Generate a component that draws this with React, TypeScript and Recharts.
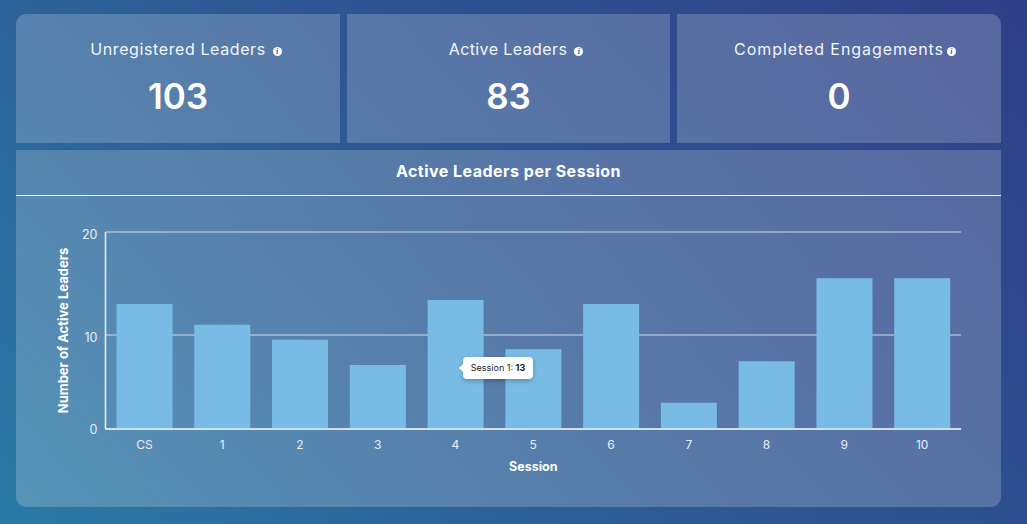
import React from "react";
import { BarChart, Bar, XAxis, YAxis, CartesianGrid } from "recharts";

const sessions = ["CS", "1", "2", "3", "4", "5", "6", "7", "8", "9", "10"];
const leaders = [13, 11, 9.5, 6.8, 13.4, 8.5, 13, 2.8, 7.2, 15.5, 15.5];
const yTicks = [0, 10, 20];
const cardTitles = ["Unregistered Leaders", "Active Leaders", "Completed Engagements"];
const cardValues = ["103", "83", "0"];
const tooltipName = "Session 1: ";
const tooltipValue = "13";

const FONT = "Inter, 'Noto Sans', sans-serif";
const rows = sessions.map((session, i) => ({ session, leaders: leaders[i] }));

// The reference axis is slightly uneven: the 10 line sits below the middle of the 0-20 range.
function unevenScale(): any {
  let d = [0, 20];
  let r = [0, 1];
  const midShare = 0.477;
  const s: any = (v: number) => {
    const mid = (d[0] + d[1]) / 2;
    const t =
      v <= mid
        ? ((v - d[0]) / (mid - d[0])) * midShare
        : midShare + ((v - mid) / (d[1] - mid)) * (1 - midShare);
    return r[0] + t * (r[1] - r[0]);
  };
  s.domain = (x?: number[]) => (x ? ((d = x), s) : d);
  s.range = (x?: number[]) => (x ? ((r = x), s) : r);
  s.copy = () => unevenScale().domain(d).range(r);
  s.ticks = () => yTicks;
  return s;
}

const panel: React.CSSProperties = {
  position: "absolute",
  background: "rgba(255,255,255,0.2)",
  color: "#fff",
  fontFamily: FONT,
};

const cardBoxes = [
  { left: 16, width: 324, radius: "10px 0 0 0" },
  { left: 347, width: 323, radius: "0" },
  { left: 677, width: 324, radius: "0 10px 0 0" },
];
const infoOffsets = [7, 7, 3];
const titleSpacing = [0.6, 0.4, 0.93];
const titleShift = [8, 7.5, 6];

function YTick({ x, y, payload }: any) {
  return (
    <text x={x + 5} y={y + (payload.value === 0 ? 0 : 2)} textAnchor="end" dominantBaseline="central"
      fill="#e8eef6" fontSize={12.5} fontFamily={FONT}>
      {payload.value}
    </text>
  );
}

export default function App() {
  return (
    <div
      style={{
        position: "absolute",
        left: 0,
        top: 0,
        width: 1027,
        height: 524,
        overflow: "hidden",
        background: "linear-gradient(48deg, #2a7aa6 0%, #2d5a94 45%, #2f3f87 100%)",
      }}
    >
      {cardTitles.map((title, i) => (
        <div
          key={title}
          style={{
            ...panel,
            left: cardBoxes[i].left,
            top: 14,
            width: cardBoxes[i].width,
            height: 129,
            borderRadius: cardBoxes[i].radius,
          }}
        >
          <div
            style={{
              position: "absolute",
              top: 25,
              left: titleShift[i],
              width: "100%",
              textAlign: "center",
              fontSize: 16,
              lineHeight: "20px",
              letterSpacing: titleSpacing[i],
              color: "#f2f5fa",
              whiteSpace: "nowrap",
            }}
          >
            {title}
            <span
              style={{
                display: "inline-block",
                width: 9,
                height: 9,
                borderRadius: "50%",
                background: "#fff",
                color: "#35598f",
                marginLeft: infoOffsets[i],
                textAlign: "center",
                fontSize: 8,
                lineHeight: "9px",
                fontStyle: "italic",
                fontWeight: 800,
                letterSpacing: 0,
                fontFamily: "'Liberation Serif', serif",
                verticalAlign: 1,
              }}
            >
              i
            </span>
          </div>
          <div
            style={{
              position: "absolute",
              top: 60,
              width: "100%",
              textAlign: "center",
              fontSize: 35,
              lineHeight: "44px",
              fontWeight: 600,
            }}
          >
            {cardValues[i]}
          </div>
        </div>
      ))}

      <div style={{ ...panel, left: 16, top: 150, width: 985, height: 357, borderRadius: "0 0 10px 10px" }}>
        <div
          style={{
            position: "absolute",
            top: 0,
            left: 0,
            width: "100%",
            height: 45,
            borderBottom: "1px solid rgba(255,255,255,0.9)",
            textAlign: "center",
            fontSize: 16,
            lineHeight: "43px",
            fontWeight: 700,
            letterSpacing: 0.48,
          }}
        >
          Active Leaders per Session
        </div>
      </div>

      <div style={{ position: "absolute", left: 16, top: 196 }}>
        <BarChart
          width={985}
          height={310}
          data={rows}
          margin={{ top: 36, right: 40, bottom: 0, left: 29.5 }}
          barCategoryGap={0}
        >
          <CartesianGrid vertical={false} stroke="rgba(255,255,255,0.36)" strokeWidth={2} />
          <XAxis
            dataKey="session"
            interval={0}
            height={77}
            tickLine={false}
            axisLine={{ stroke: "rgba(255,255,255,0.6)", strokeWidth: 2 }}
            tick={{ fill: "#e8eef6", fontSize: 12, fontFamily: FONT }}
            tickMargin={5}
            label={{
              value: "Session",
              position: "insideBottom",
              offset: 35,
              fill: "#fff",
              fontSize: 12.5,
              fontWeight: 700,
              fontFamily: FONT,
            }}
          />
          <YAxis
            type="number"
            width={60}
            domain={[0, 20]}
            ticks={yTicks}
            scale={unevenScale()}
            tickLine={false}
            axisLine={{ stroke: "rgba(255,255,255,0.9)", strokeWidth: 1.5 }}
            tick={<YTick />}
            tickMargin={7}
            label={{
              value: "Number of Active Leaders",
              angle: -90,
              position: "insideLeft",
              offset: 18,
              fill: "#fff",
              fontSize: 13,
              fontWeight: 700,
              fontFamily: FONT,
              style: { textAnchor: "middle" },
            }}
          />
          <Bar dataKey="leaders" fill="#78bce6" barSize={56} isAnimationActive={false} />
        </BarChart>
      </div>

      <div
        style={{
          position: "absolute",
          left: 463,
          top: 357,
          width: 70,
          height: 22,
          background: "#fff",
          borderRadius: 4,
          boxShadow: "0 2px 5px rgba(0,0,0,0.25)",
          fontFamily: FONT,
          fontSize: 9,
          lineHeight: "21px",
          textAlign: "center",
          color: "#222",
          whiteSpace: "nowrap",
        }}
      >
        <span
          style={{
            position: "absolute",
            left: -4,
            top: 7,
            width: 0,
            height: 0,
            borderTop: "4px solid transparent",
            borderBottom: "4px solid transparent",
            borderRight: "4px solid #fff",
          }}
        />
        {tooltipName}
        <b>{tooltipValue}</b>
      </div>
    </div>
  );
}
